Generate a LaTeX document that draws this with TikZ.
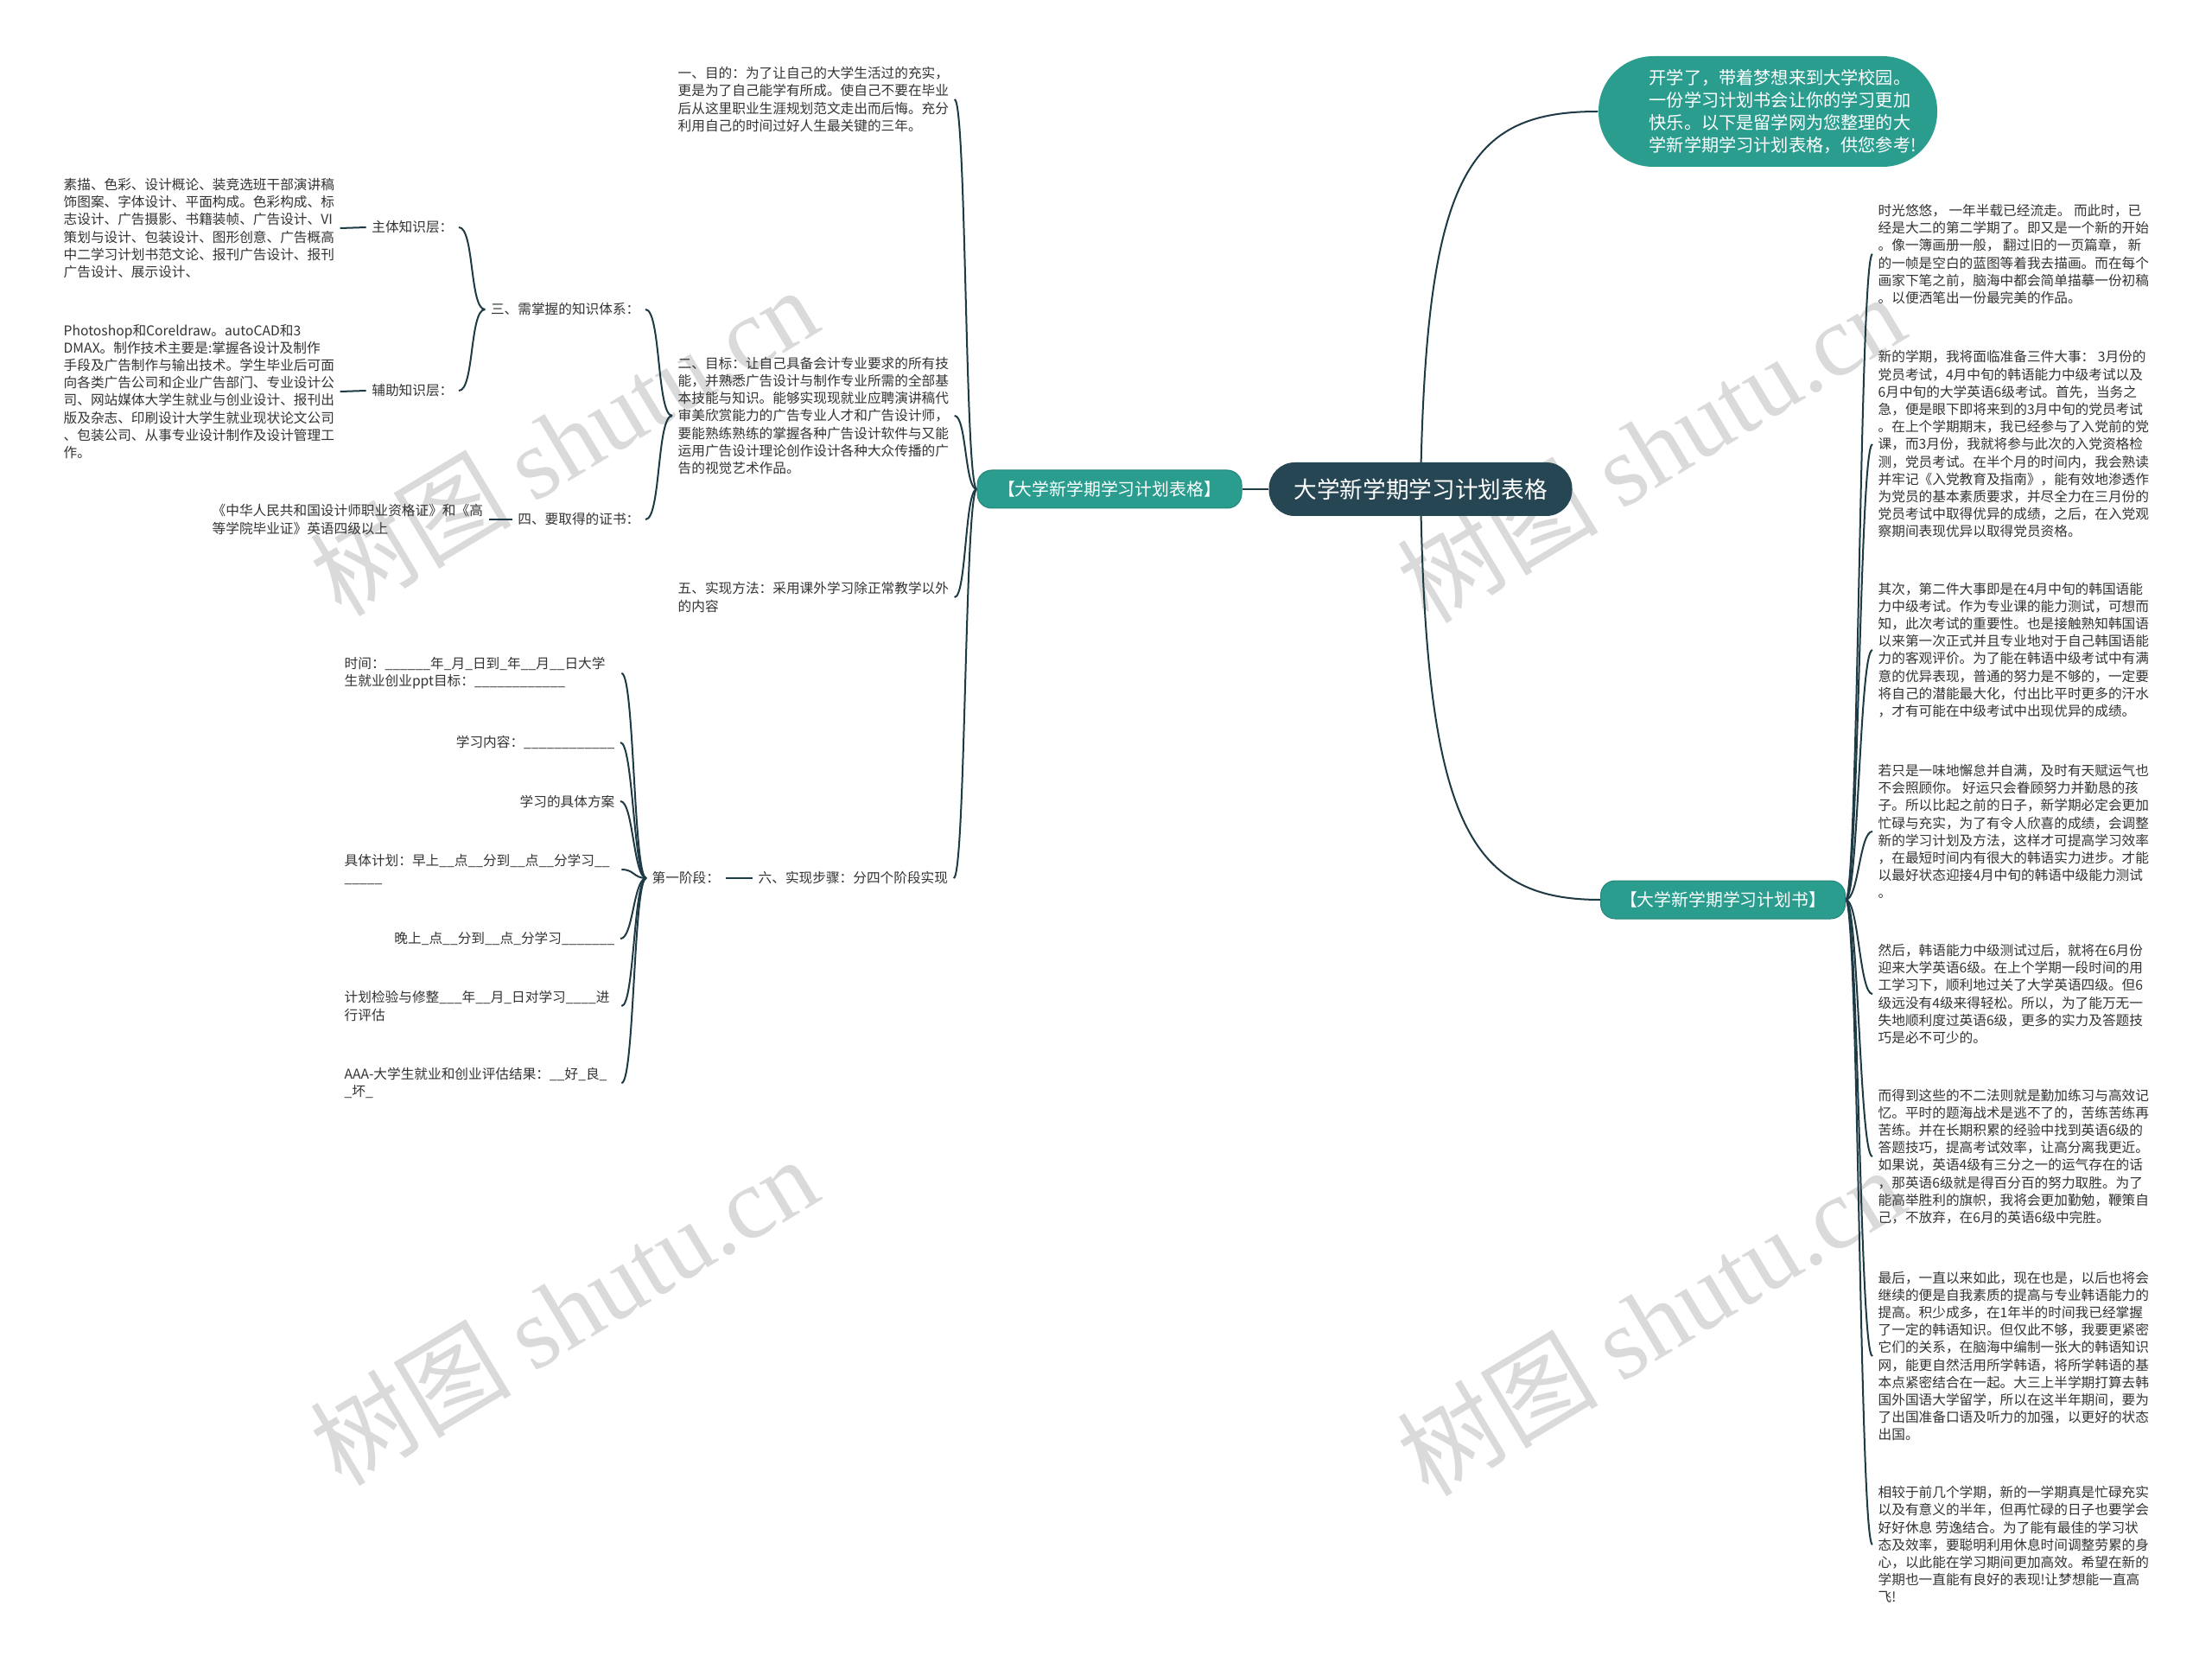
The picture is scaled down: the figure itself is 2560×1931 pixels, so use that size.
\documentclass[tikz,border=0pt]{standalone}
\usepackage{fontspec}
\setmainfont{Noto Sans CJK SC}
\newfontfamily\wmfont{Liberation Serif}
\pgfdeclarelayer{bg}
\pgfsetlayers{bg,main}
\definecolor{tealc}{HTML}{2A9D8F}
\definecolor{darkc}{HTML}{264653}
\definecolor{linec}{HTML}{1E3A45}
\definecolor{wmc}{HTML}{DADADA}
\definecolor{txtc}{HTML}{333333}
\begin{document}
\begin{tikzpicture}[x=0.3pt,y=-0.3pt,
  txt/.style={inner xsep=1.8pt,inner ysep=0pt,align=left,text=txtc,font=\fontsize{4.7pt}{6.06pt}\selectfont},
  conn/.style={draw=linec,line width=0.6pt},
  tagbox/.style={fill=tealc,draw=tealc!85!black,line width=0.3pt,text=white,rounded corners=5pt,minimum height=13.2pt,inner sep=0pt,font=\fontsize{5.95pt}{7pt}\selectfont},
  wmark/.style={text=wmc,rotate=31,font=\fontsize{35pt}{38pt}\selectfont,inner sep=0pt}]
\useasboundingbox (0,0) rectangle (2560,1931);
\begin{pgfonlayer}{bg}
\fill[white] (0,0) rectangle (2560,1931);
\node[wmark] (wm1) at (652,510) {树图 {\wmfont shutu.cn}};
\node[wmark] (wm2) at (1910,518) {树图 {\wmfont shutu.cn}};
\node[wmark] (wm3) at (652,1516) {树图 {\wmfont shutu.cn}};
\node[wmark] (wm4) at (1910,1528) {树图 {\wmfont shutu.cn}};
\end{pgfonlayer}

% central nodes
\node[fill=darkc,text=white,rounded corners=9pt,minimum width=105.3pt,minimum height=18.6pt,inner sep=0pt,font=\fontsize{8pt}{9pt}\selectfont] (title) at (1644,566) {大学新学期学习计划表格};
\node[tagbox,minimum width=91.8pt] (ltag) at (1284,566) {【大学新学期学习计划表格】};
\node[tagbox,minimum width=84.9pt] (rtag) at (1994,1041) {【大学新学期学习计划书】};
\node[fill=tealc,rounded corners=19pt,minimum width=117.6pt,minimum height=38.4pt,inner sep=0pt] (bubble) at (2046,129) {};
\node[anchor=west,text=white,align=left,inner sep=0pt,font=\fontsize{6.05pt}{7.8pt}\selectfont] (bubbletxt) at (1908,129) {开学了，带着梦想来到大学校园。\\一份学习计划书会让你的学习更加\\快乐。以下是留学网为您整理的大\\学新学期学习计划表格，供您参考!};

% right column
\node[txt,anchor=west] (p1) at (2167,294) {时光悠悠， 一年半载已经流走。 而此时，已\\经是大二的第二学期了。即又是一个新的开始\\。像一簿画册一般， 翻过旧的一页篇章， 新\\的一帧是空白的蓝图等着我去描画。而在每个\\画家下笔之前，脑海中都会简单描摹一份初稿\\。以便洒笔出一份最完美的作品。};
\node[txt,anchor=west] (p2) at (2167,514) {新的学期，我将面临准备三件大事： 3月份的\\党员考试，4月中旬的韩语能力中级考试以及\\6月中旬的大学英语6级考试。首先，当务之\\急，便是眼下即将来到的3月中旬的党员考试\\。在上个学期期末，我已经参与了入党前的党\\课，而3月份，我就将参与此次的入党资格检\\测，党员考试。在半个月的时间内，我会熟读\\并牢记《入党教育及指南》，能有效地渗透作\\为党员的基本素质要求，并尽全力在三月份的\\党员考试中取得优异的成绩，之后，在入党观\\察期间表现优异以取得党员资格。};
\node[txt,anchor=west] (p3) at (2167,752) {其次，第二件大事即是在4月中旬的韩国语能\\力中级考试。作为专业课的能力测试，可想而\\知，此次考试的重要性。也是接触熟知韩国语\\以来第一次正式并且专业地对于自己韩国语能\\力的客观评价。为了能在韩语中级考试中有满\\意的优异表现，普通的努力是不够的，一定要\\将自己的潜能最大化，付出比平时更多的汗水\\，才有可能在中级考试中出现优异的成绩。};
\node[txt,anchor=west] (p4) at (2167,962) {若只是一味地懈怠并自满，及时有天赋运气也\\不会照顾你。 好运只会眷顾努力并勤恳的孩\\子。所以比起之前的日子，新学期必定会更加\\忙碌与充实，为了有令人欣喜的成绩，会调整\\新的学习计划及方法，这样才可提高学习效率\\，在最短时间内有很大的韩语实力进步。才能\\以最好状态迎接4月中旬的韩语中级能力测试\\。};
\node[txt,anchor=west] (p5) at (2167,1150) {然后，韩语能力中级测试过后，就将在6月份\\迎来大学英语6级。在上个学期一段时间的用\\工学习下，顺利地过关了大学英语四级。但6\\级远没有4级来得轻松。所以，为了能万无一\\失地顺利度过英语6级，更多的实力及答题技\\巧是必不可少的。};
\node[txt,anchor=west] (p6) at (2167,1338) {而得到这些的不二法则就是勤加练习与高效记\\忆。平时的题海战术是逃不了的，苦练苦练再\\苦练。并在长期积累的经验中找到英语6级的\\答题技巧，提高考试效率，让高分离我更近。\\如果说，英语4级有三分之一的运气存在的话\\，那英语6级就是得百分百的努力取胜。为了\\能高举胜利的旗帜，我将会更加勤勉，鞭策自\\己，不放弃，在6月的英语6级中完胜。};
\node[txt,anchor=west] (p7) at (2167,1569) {最后，一直以来如此，现在也是，以后也将会\\继续的便是自我素质的提高与专业韩语能力的\\提高。积少成多，在1年半的时间我已经掌握\\了一定的韩语知识。但仅此不够，我要更紧密\\它们的关系，在脑海中编制一张大的韩语知识\\网，能更自然活用所学韩语，将所学韩语的基\\本点紧密结合在一起。大三上半学期打算去韩\\国外国语大学留学，所以在这半年期间，要为\\了出国准备口语及听力的加强，以更好的状态\\出国。};
\node[txt,anchor=west] (p8) at (2167,1787) {相较于前几个学期，新的一学期真是忙碌充实\\以及有意义的半年，但再忙碌的日子也要学会\\好好休息 劳逸结合。为了能有最佳的学习状\\态及效率，要聪明利用休息时间调整劳累的身\\心，以此能在学习期间更加高效。希望在新的\\学期也一直能有良好的表现!让梦想能一直高\\飞!};

% left side
\node[txt,anchor=west] (c1) at (778,115) {一、目的：为了让自己的大学生活过的充实，\\更是为了自己能学有所成。使自己不要在毕业\\后从这里职业生涯规划范文走出而后悔。充分\\利用自己的时间过好人生最关键的三年。};
\node[txt,anchor=west] (c2) at (778,481) {二、目标：让自己具备会计专业要求的所有技\\能，并熟悉广告设计与制作专业所需的全部基\\本技能与知识。能够实现现就业应聘演讲稿代\\审美欣赏能力的广告专业人才和广告设计师，\\要能熟练熟练的掌握各种广告设计软件与又能\\运用广告设计理论创作设计各种大众传播的广\\告的视觉艺术作品。};
\node[txt,anchor=east] (c3) at (747,358) {三、需掌握的知识体系：};
\node[txt,anchor=east] (c4) at (747,601) {四、要取得的证书：};
\node[txt,anchor=west] (c5) at (778,691) {五、实现方法：采用课外学习除正常教学以外\\的内容};
\node[txt,anchor=west] (c6) at (871,1016) {六、实现步骤：分四个阶段实现};
\node[txt,anchor=east] (k1) at (531,263) {主体知识层：};
\node[txt,anchor=east] (k2) at (531,452) {辅助知识层：};
\node[txt,anchor=west] (ta) at (67,264) {素描、色彩、设计概论、装竞选班干部演讲稿\\饰图案、字体设计、平面构成。色彩构成、标\\志设计、广告摄影、书籍装帧、广告设计、VI\\策划与设计、包装设计、图形创意、广告概高\\中二学习计划书范文论、报刊广告设计、报刊\\广告设计、展示设计、};
\node[txt,anchor=west] (tb) at (67,453) {Photoshop和Coreldraw。autoCAD和3\\DMAX。制作技术主要是:掌握各设计及制作\\手段及广告制作与输出技术。学生毕业后可面\\向各类广告公司和企业广告部门、专业设计公\\司、网站媒体大学生就业与创业设计、报刊出\\版及杂志、印刷设计大学生就业现状论文公司\\、包装公司、从事专业设计制作及设计管理工\\作。};
\node[txt,anchor=west] (cert) at (239,601) {《中华人民共和国设计师职业资格证》和《高\\等学院毕业证》英语四级以上};
\node[txt,anchor=west] (s1) at (748,1016) {第一阶段：};
\node[txt,anchor=west,text width=94.2pt] (s1a) at (392,779) {时间：\_\_\_\_\_\_年\_月\_日到\_年\_\_月\_\_日大学\\生就业创业ppt目标：\_\_\_\_\_\_\_\_\_\_\_\_};
\node[txt,anchor=east] (s1b) at (718,859) {学习内容：\_\_\_\_\_\_\_\_\_\_\_\_};
\node[txt,anchor=east] (s1c) at (718,927) {学习的具体方案};
\node[txt,anchor=west,text width=94.2pt] (s1d) at (392,1006) {具体计划：早上\_\_点\_\_分到\_\_点\_\_分学习\_\_\\\_\_\_\_\_};
\node[txt,anchor=east] (s1e) at (718,1086) {晚上\_点\_\_分到\_\_点\_分学习\_\_\_\_\_\_\_};
\node[txt,anchor=west,text width=94.2pt] (s1f) at (392,1164) {计划检验与修整\_\_\_年\_\_月\_日对学习\_\_\_\_进\\行评估};
\node[txt,anchor=west,text width=94.2pt] (s1g) at (392,1253) {AAA-大学生就业和创业评估结果：\_\_好\_良\_\\\_坏\_};

% connectors
\begin{pgfonlayer}{bg}
\draw[conn] (title.center) .. controls +(6,-366) and +(-150,0) .. (bubble.west);
\draw[conn] (title.center) .. controls +(6,384) and +(-153,0) .. (rtag.west);
\draw[conn] (title.west) -- (ltag.east);
\foreach \c in {c1,c2,c5,c6} \draw[conn] (ltag.west) .. controls +(-14,0) and +(14,0) .. (\c.east);
\foreach \c in {c3,c4} \draw[conn] (c2.west) .. controls +(-18,0) and +(18,0) .. (\c.east);
\foreach \c in {k1,k2} \draw[conn] (c3.west) .. controls +(-18,0) and +(18,0) .. (\c.east);
\draw[conn] (k1.west) -- (ta.east);
\draw[conn] (k2.west) -- (tb.east);
\draw[conn] (c4.west) -- (cert.east);
\draw[conn] (c6.west) -- (s1.east);
\foreach \c in {s1a,s1b,s1c,s1d,s1e,s1f,s1g} \draw[conn] (s1.west) .. controls +(-15,0) and +(15,0) .. (\c.east);
\foreach \c in {p1,p2,p3,p4,p5,p6,p7,p8} \draw[conn] (rtag.east) .. controls +(15,0) and +(-15,0) .. (\c.west);
\end{pgfonlayer}
\end{tikzpicture}
\end{document}
